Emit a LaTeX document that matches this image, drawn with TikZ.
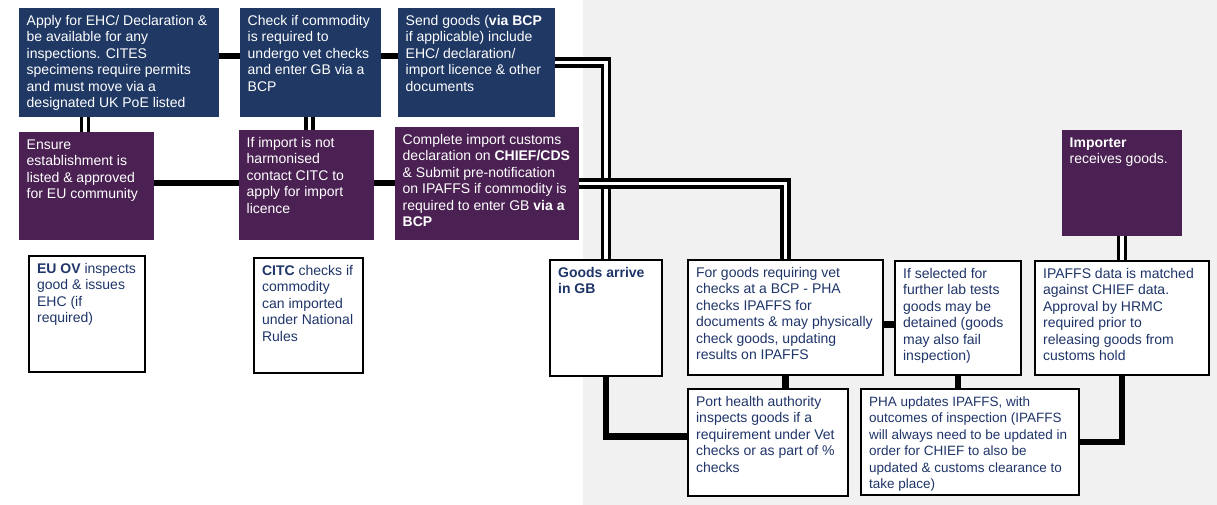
\documentclass[tikz,border=0pt]{standalone}
\usepackage{fontspec}
\setmainfont{Liberation Sans}
\usetikzlibrary{calc}
\definecolor{BoxNavy}{HTML}{1F3864}
\definecolor{BoxPlum}{HTML}{4B2153}
\definecolor{NoteInk}{HTML}{1F3569}
\definecolor{PaneGray}{HTML}{F1F1F1}
\hyphenpenalty=10000
\exhyphenpenalty=10000
\tikzset{
  card/.style={anchor=north west,inner xsep=7.5pt,inner ysep=6pt,align=flush left,
    text height=11pt,font=\fontsize{14}{16.5}\selectfont},
  navybox/.style={card,fill=BoxNavy,text=white},
  plumbox/.style={card,fill=BoxPlum,text=white},
  notebox/.style={card,inner xsep=8pt,fill=white,draw=black,line width=2.2pt,text=NoteInk},
  link/.style={line width=6.5pt},
  dbl/.style={double=white,double distance=3.5pt,line width=3.5pt}
}

\begin{document}
\begin{tikzpicture}[x=1pt,y=-1pt]
    \useasboundingbox (0,0) rectangle (1217,505);
    \fill[PaneGray] (583,0) rectangle (1217,505);

    \node[navybox,text width=185pt,text depth=86pt] (apply) at (19,8)
      {Apply for EHC/ Declaration \& be available for any inspections. CITES specimens require permits and must move via a designated UK PoE listed};
    \node[navybox,text width=126pt,text depth=86pt] (check) at (240,8)
      {Check if commodity is required to undergo vet checks and enter GB via a BCP};
    \node[navybox,text width=142pt,text depth=86pt] (send) at (398,8)
      {Send goods (\textbf{via BCP} if applicable) include EHC/ declaration/ import licence \& other documents};

    \node[plumbox,text width=120pt,text depth=85pt] (ensure) at (19,132)
      {Ensure establishment is listed \& approved for EU community};
    \node[plumbox,text width=120pt,text depth=87pt] (licence) at (239,130)
      {If import is not harmonised contact CITC to apply for import licence};
    \node[plumbox,text width=169pt,text depth=90pt] (declare) at (395,127)
      {Complete import customs declaration on \textbf{CHIEF/CDS} \& Submit pre-notification on IPAFFS if commodity is required to enter GB \textbf{via a BCP}};
    \node[plumbox,text width=105pt,text depth=83pt] (importer) at (1062,130)
      {\textbf{Importer}\\receives goods.};

    \node[notebox,text width=100pt,text depth=93pt] (euov) at (28,255)
      {\textbf{EU OV} inspects good \& issues EHC (if required)};
    \node[notebox,text width=92.5pt,text depth=92pt] (citc) at (253,257)
      {\textbf{CITC} checks if commodity can imported under National Rules};
    \node[notebox,text width=96pt,text depth=93pt] (arrive) at (549,259)
      {\textbf{Goods arrive in GB}};
    \node[notebox,text width=179pt,text depth=92pt] (vetcheck) at (687,259)
      {For goods requiring vet checks at a BCP - PHA checks IPAFFS for documents \& may physically check goods, updating results on IPAFFS};
    \node[notebox,text width=144pt,text depth=84pt] (porthealth) at (687,388)
      {Port health authority inspects goods if a requirement under Vet checks or as part of \% checks};
    \node[notebox,text width=110pt,text depth=91pt] (labtest) at (894,260)
      {If selected for further lab tests goods may be detained (goods may also fail inspection)};
    \node[notebox,text width=158pt,text depth=91pt] (matched) at (1034,260)
      {IPAFFS data is matched against CHIEF data. Approval by HRMC required prior to releasing goods from customs hold};
    \node[notebox,text width=202pt,text depth=83pt,font=\fontsize{13.5}{16.5}\selectfont] (phaupdate) at (860,388)
      {PHA updates IPAFFS, with outcomes of inspection (IPAFFS will always need to be updated in order for CHIEF to also be updated \& customs clearance to take place)};

    \coordinate (ad) at ([xshift=66pt]apply.south west);
    \coordinate (ce) at ([xshift=69.5pt]check.south west);
    \coordinate (de) at ([yshift=-51pt]ensure.north east);
    \coordinate (ed) at ([yshift=-53pt]licence.north east);
    \coordinate (vl) at ([yshift=-7pt]vetcheck.east);

    \draw[link] ([yshift=-48pt]apply.north east) -- ([yshift=-48pt]check.north west);
    \draw[link] ([yshift=-48pt]check.north east) -- ([yshift=-48pt]send.north west);
    \draw[link] (de) -- (de -| licence.west);
    \draw[link] (ed) -- (ed -| declare.west);
    \draw[dbl] (ad) -- (ad |- ensure.north);
    \draw[dbl] (ce) -- (ce |- licence.north);
    \draw[dbl] (send.east) -| (arrive.north);
    \draw[dbl] (declare.east) -| (vetcheck.north);
    \draw[dbl] (importer.south) -- (importer.south |- matched.north);

    \draw[link] (arrive.south) |- ([yshift=6pt]porthealth.west);
    \draw[link] (vetcheck.south) -- (vetcheck.south |- porthealth.north);
    \draw[link] (vl) -- (vl -| labtest.west);
    \draw[link] (labtest.south) -- (labtest.south |- phaupdate.north);
    \draw[link] (matched.south) |- (phaupdate.east);
  \end{tikzpicture}
\end{document}
